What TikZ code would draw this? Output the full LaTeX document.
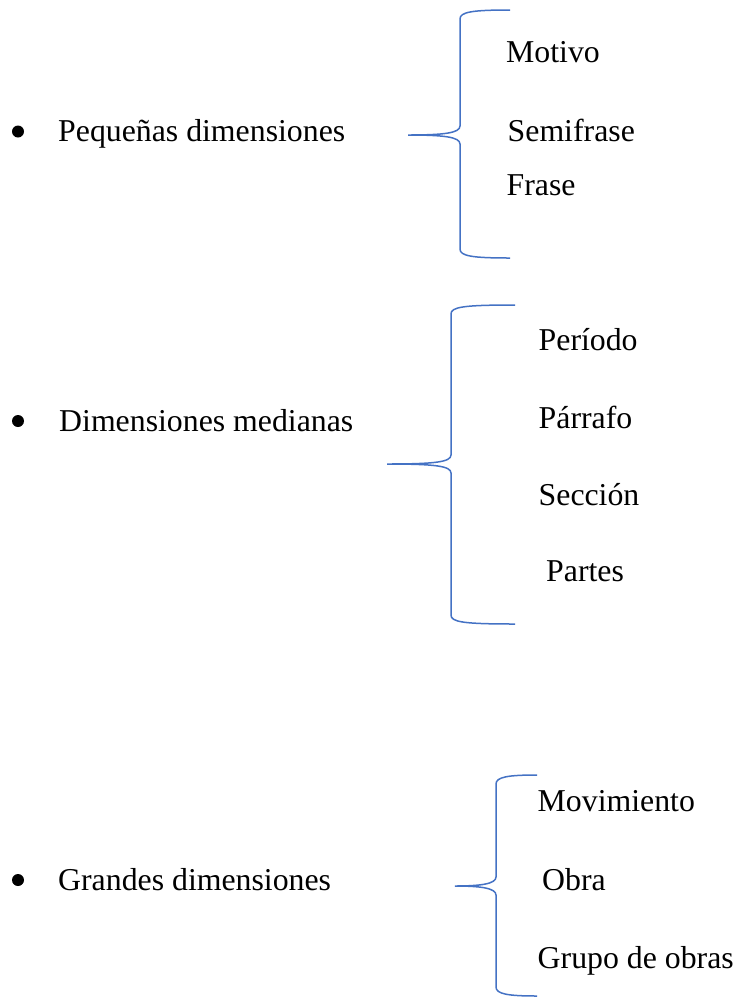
\documentclass[tikz,border=0pt]{standalone}
\usepackage{fontspec}
\setmainfont{Liberation Serif}
\usetikzlibrary{positioning}
\definecolor{BRACE_COLOR}{HTML}{4472C4}
\tikzstyle{txt} = [anchor=base west, inner sep=0pt, font=\fontsize{31.8}{38}\selectfont]
\tikzstyle{dot} = [circle, fill=black, inner sep=0pt, minimum size=12pt]
\tikzstyle{brace} = [draw=BRACE_COLOR, line width=1.5pt]
% end x, vertical x, tip x, top y, middle y, bottom y
\newcommand{\curlybrace}[6]{%
  \draw[brace] (#1,#4) .. controls ({#2+12},#4) and (#2,{#4+2}) .. (#2,{#4+9})
    -- (#2,{#5-9}) .. controls (#2,{#5-2}) and ({#2-16},#5) .. (#3,#5)
    .. controls ({#2-16},#5) and (#2,{#5+2}) .. (#2,{#5+9})
    -- (#2,{#6-9}) .. controls (#2,{#6-2}) and ({#2+12},#6) .. (#1,#6);}
\begin{document}
\begin{tikzpicture}[x=1pt, y=-1pt]
  \useasboundingbox (0,0) rectangle (741,997);

  %%%%%%%%%%%%%%%%%%%%%%%%%%%%%%%%%%%%%%%%%%%%%%%%%
  % LEFT ITEMS
  %%%%%%%%%%%%%%%%%%%%%%%%%%%%%%%%%%%%%%%%%%%%%%%%%
  \node[txt] (PD) at (58,141.7) {Peque\~nas dimensiones};
  \node[txt] (DM) at (59,431.5) {Dimensiones medianas};
  \node[txt] (GD) at (58,890)   {Grandes dimensiones};
  \node[dot] (b1) at (18,131.5) {};
  \node[dot] (b2) at (18,421) {};
  \node[dot] (b3) at (18,880) {};

  %%%%%%%%%%%%%%%%%%%%%%%%%%%%%%%%%%%%%%%%%%%%%%%%%
  % BRACES
  %%%%%%%%%%%%%%%%%%%%%%%%%%%%%%%%%%%%%%%%%%%%%%%%%
  \curlybrace{510}{460}{408}{10}{135}{258}
  \curlybrace{515}{451}{387}{305}{464}{624}
  \curlybrace{537}{496}{455}{775}{886}{996}

  %%%%%%%%%%%%%%%%%%%%%%%%%%%%%%%%%%%%%%%%%%%%%%%%%
  % RIGHT ITEMS
  %%%%%%%%%%%%%%%%%%%%%%%%%%%%%%%%%%%%%%%%%%%%%%%%%
  % small
  \node[txt] (P1) at (506,62.3)  {Motivo};
  \node[txt] (P2) at (507.5,141.7) {Semifrase};
  \node[txt] (P3) at (506.5,195) {Frase};

  % medium
  \node[txt] (D1) at (538.5,350.7) {Per\'iodo};
  \node[txt] (D2) at (538.5,428)   {P\'arrafo};
  \node[txt] (D3) at (538.5,505)   {Secci\'on};
  \node[txt] (D4) at (546,581.7)   {Partes};

  % large
  \node[txt] (G1) at (537.5,811.7) {Movimiento};
  \node[txt] (G2) at (542,890)     {Obra};
  \node[txt] (G3) at (537.5,968.3) {Grupo de obras};
\end{tikzpicture}
\end{document}
